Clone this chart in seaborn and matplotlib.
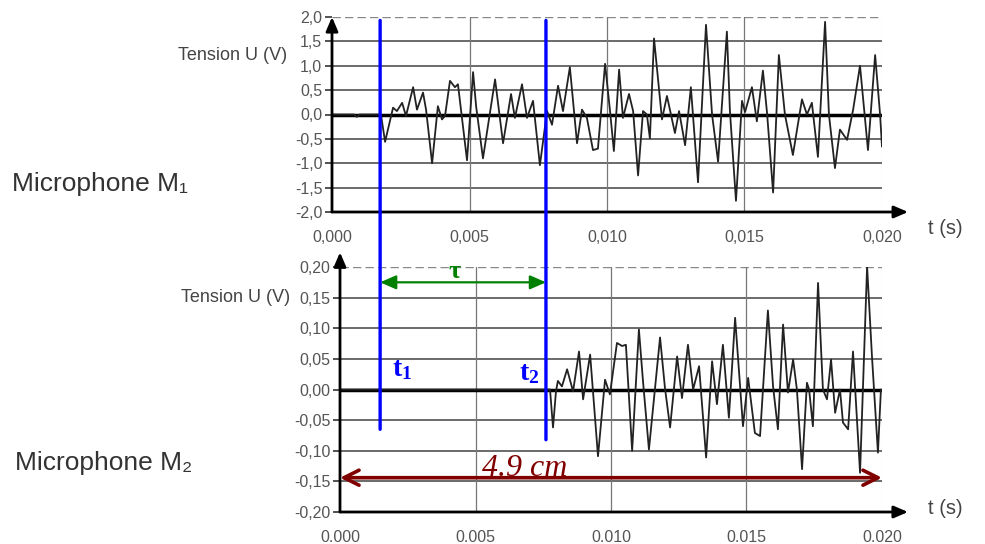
import numpy as np
import pandas as pd
import matplotlib
matplotlib.use("Agg")
import matplotlib.pyplot as plt
import seaborn as sns
from matplotlib.patches import ConnectionPatch
from matplotlib.transforms import blended_transform_factory

# signal of microphone M1 (time in s, tension in V)
t_m1 = [0.0, 0.0008, 0.0009, 0.0010, 0.00178, 0.00193, 0.00222, 0.00236, 0.00255, 0.00269,
        0.00295, 0.00309, 0.00331, 0.00342, 0.00364, 0.00385, 0.00400, 0.00411, 0.00429, 0.00447,
        0.00458, 0.00491, 0.00513, 0.00524, 0.00549, 0.00593, 0.00622, 0.00651, 0.00665, 0.00691,
        0.00709, 0.00731, 0.00756, 0.00782, 0.00800, 0.00822, 0.00840, 0.00865, 0.00891, 0.00909,
        0.00927, 0.00949, 0.00967, 0.00993, 0.01011, 0.01025, 0.01044, 0.01058, 0.01080, 0.01095,
        0.01113, 0.01131, 0.01145, 0.01156, 0.01171, 0.01200, 0.01218, 0.01247, 0.01262, 0.01284,
        0.01305, 0.01331, 0.01360, 0.01382, 0.01404, 0.01436, 0.01447, 0.01469, 0.01491, 0.01502,
        0.01527, 0.01545, 0.01567, 0.01582, 0.01604, 0.01625, 0.01647, 0.01676, 0.01709, 0.01727,
        0.01745, 0.01767, 0.01793, 0.01807, 0.01829, 0.01847, 0.01873, 0.01895, 0.01920, 0.01949,
        0.01975, 0.01993, 0.02000]
u_m1 = [0.0, 0.0, -0.05, 0.0, 0.0, -0.56, 0.14, 0.07, 0.24, -0.03,
        0.56, 0.10, 0.45, 0.10, -1.00, 0.17, -0.10, -0.03, 0.69, 0.56,
        0.62, -0.94, 0.87, 0.17, -0.90, 0.72, -0.59, 0.42, -0.07, 0.62,
        -0.07, 0.28, -1.04, 0.07, -0.21, 0.59, 0.07, 0.97, -0.59, 0.10,
        -0.07, -0.73, -0.70, 1.04, 0.07, -0.75, 0.92, -0.07, 0.42, 0.07,
        -1.25, 0.07, 0.0, -0.49, 1.56, -0.10, 0.38, -0.38, 0.07, -0.63,
        0.56, -1.39, 1.84, 0.0, -0.97, 1.70, 0.07, -1.77, 0.28, 0.05,
        0.56, -0.14, 0.90, 0.03, -1.60, 1.22, 0.0, -0.83, 0.31, 0.0,
        0.24, -0.87, 1.90, 0.0, -1.10, -0.31, -0.52, 0.10, 1.00, -0.73,
        1.22, 0.0, -0.66]

# signal of microphone M2
t_m2 = [0.0, 0.00764, 0.00775, 0.00786, 0.00797, 0.00804, 0.00819, 0.00838, 0.00860, 0.00882,
        0.00897, 0.00923, 0.00952, 0.00978, 0.00996, 0.01022, 0.01041, 0.01055, 0.01078, 0.01103,
        0.01118, 0.01140, 0.01181, 0.01199, 0.01218, 0.01244, 0.01262, 0.01284, 0.01303, 0.01325,
        0.01351, 0.01373, 0.01391, 0.01413, 0.01435, 0.01458, 0.01487, 0.01506, 0.01531, 0.01550,
        0.01579, 0.01598, 0.01616, 0.01635, 0.01653, 0.01672, 0.01686, 0.01705, 0.01723, 0.01731,
        0.01745, 0.01764, 0.01782, 0.01797, 0.01812, 0.01827, 0.01845, 0.01856, 0.01875, 0.01893,
        0.01919, 0.01945, 0.01963, 0.01985, 0.01996]
u_m2 = [0.0, 0.0, 0.0, -0.062, -0.003, 0.014, 0.005, 0.033, -0.003, 0.062,
        -0.016, 0.057, -0.109, 0.016, -0.008, 0.076, 0.071, 0.073, -0.100, 0.098,
        0.014, -0.098, 0.085, 0.003, -0.062, 0.054, -0.014, 0.073, 0.0, 0.038,
        -0.111, 0.046, -0.024, 0.073, -0.046, 0.117, -0.060, 0.019, -0.071, -0.076,
        0.129, 0.005, -0.065, 0.106, -0.005, 0.049, 0.0, -0.130, 0.011, 0.0,
        -0.060, 0.174, 0.0, -0.016, 0.049, -0.038, 0.0, -0.054, -0.065, 0.062,
        -0.136, 0.201, 0.054, -0.103, 0.0]

x_ticks = [0.0, 0.005, 0.010, 0.015, 0.020]
x_labels_m1 = ["0,000", "0,005", "0,010", "0,015", "0,020"]
x_labels_m2 = ["0.000", "0.005", "0.010", "0.015", "0.020"]
y_ticks_m1 = [-2.0, -1.5, -1.0, -0.5, 0.0, 0.5, 1.0, 1.5, 2.0]
y_labels_m1 = ["-2,0", "-1,5", "-1,0", "-0,5", "0,0", "0,5", "1,0", "1,5", "2,0"]
y_ticks_m2 = [-0.20, -0.15, -0.10, -0.05, 0.0, 0.05, 0.10, 0.15, 0.20]
y_labels_m2 = ["-0,20", "-0,15", "-0,10", "-0,05", "0,00", "0,05", "0,10", "0,15", "0,20"]

t1 = 0.00175      # arrivée du son sur M1
t2 = 0.00778      # arrivée du son sur M2

sns.set_theme(style="white")
plt.rcParams['font.family'] = ['Liberation Sans', 'DejaVu Sans']
plt.rcParams['mathtext.fontset'] = 'custom'
plt.rcParams['mathtext.rm'] = 'Liberation Serif'
plt.rcParams['mathtext.bf'] = 'Liberation Serif:bold'
plt.rcParams['mathtext.it'] = 'Liberation Serif:italic'

fig = plt.figure(figsize=(9.85, 5.44), dpi=100)
ax1 = fig.add_axes([332 / 985, 1 - 212 / 544, 550 / 985, 195 / 544])
ax2 = fig.add_axes([340 / 985, 1 - 512 / 544, 542 / 985, 245 / 544])


def style_axis(ax, yticks, ylabels, xlabels, ytop, xend):
    ax.set_xlim(0, 0.020)
    ax.set_ylim(yticks[0], yticks[-1])
    ax.set_xticks(x_ticks)
    ax.set_xticklabels(xlabels)
    ax.set_yticks(yticks)
    ax.set_yticklabels(ylabels)
    ax.set_xlabel("")
    ax.set_ylabel("")
    for s in ax.spines.values():
        s.set_visible(False)
    ax.tick_params(axis='y', length=5, width=1.2, color='#333', labelsize=11.5,
                   labelcolor='#555', pad=2, left=True)
    ax.tick_params(axis='x', length=0, labelsize=11.5, labelcolor='#555', pad=13)
    # quadrillage
    for y in yticks[1:-1]:
        ax.axhline(y, color='#333', lw=1.2, alpha=0.85, zorder=1)
    ax.axhline(yticks[-1], color='#888', lw=1.0, ls=(0, (6, 3)), zorder=1)
    for x in x_ticks[1:-1]:
        ax.axvline(x, color='#777', lw=0.9, zorder=1)
    ax.axvline(0.020, color='#999', lw=0.8, ls=':', zorder=1)
    ax.axhline(0, color='black', lw=2.5, zorder=2)
    # axes avec flèches
    arrow = dict(arrowstyle='-|>,head_length=0.7,head_width=0.3', lw=2, color='black',
                 shrinkA=0, shrinkB=0)
    ax.annotate('', xy=(0, ytop), xytext=(0, yticks[0]), arrowprops=arrow,
                annotation_clip=False, zorder=4)
    ax.annotate('', xy=(xend, yticks[0]), xytext=(0, yticks[0]), arrowprops=arrow,
                annotation_clip=False, zorder=4)


df1 = pd.DataFrame({"t": t_m1, "u": u_m1})
df2 = pd.DataFrame({"t": t_m2, "u": u_m2})
sns.lineplot(data=df1, x="t", y="u", ax=ax1, color='#222', lw=1.3, estimator=None, sort=False, zorder=3)
sns.lineplot(data=df2, x="t", y="u", ax=ax2, color='#222', lw=1.3, estimator=None, sort=False, zorder=3)

style_axis(ax1, y_ticks_m1, y_labels_m1, x_labels_m1, 2.0, 0.02095)
style_axis(ax2, y_ticks_m2, y_labels_m2, x_labels_m2, 0.224, 0.02096)

# textes
fig.text(12 / 985, 1 - 184 / 544, "Microphone M₁", fontsize=19, color='#333', va='center')
fig.text(15 / 985, 1 - 463 / 544, "Microphone M₂", fontsize=19, color='#333', va='center')
fig.text(287 / 985, 1 - 55 / 544, "Tension U (V)", fontsize=13, color='#444', ha='right', va='center')
fig.text(290 / 985, 1 - 297 / 544, "Tension U (V)", fontsize=13, color='#444', ha='right', va='center')
fig.text(928 / 985, 1 - 228 / 544, "t (s)", fontsize=14.5, color='#444', va='center')
fig.text(928 / 985, 1 - 508 / 544, "t (s)", fontsize=14.5, color='#444', va='center')

# repères t1, t2 et tau
trans = blended_transform_factory(ax1.transData, ax2.transData)
for t, yb in ((t1, -0.065), (t2, -0.082)):
    con = ConnectionPatch(xyA=(t, 1.93), coordsA=ax1.transData, xyB=(t, yb), coordsB=trans,
                          color='#0000ff', lw=2.4, zorder=5)
    fig.add_artist(con)

ax2.annotate('', xy=(t2, 0.175), xytext=(t1, 0.175), xycoords=trans, textcoords=trans,
             arrowprops=dict(arrowstyle='<|-|>,head_length=0.8,head_width=0.35', color='#008000',
                             lw=1.6, shrinkA=0, shrinkB=0), annotation_clip=False, zorder=6)
ax2.text(0.00447, 0.193, "τ", transform=trans, color='#008000', fontsize=19, fontweight='bold',
         family='Liberation Serif', ha='center', va='center', zorder=6)
ax2.text(0.00255, 0.033, r"$\mathbf{t_1}$", transform=trans, color='#0000ff', fontsize=20,
         ha='center', va='center', zorder=6)
ax2.text(0.00716, 0.027, r"$\mathbf{t_2}$", transform=trans, color='#0000ff', fontsize=20,
         ha='center', va='center', zorder=6)

# distance entre les micros
ax2.annotate('', xy=(0.020, -0.144), xytext=(0.0, -0.144),
             arrowprops=dict(arrowstyle='<->,head_length=0.9,head_width=0.45', color='#800000',
                             lw=2.6, shrinkA=0, shrinkB=0), annotation_clip=False, zorder=6)
ax2.text(0.00683, -0.141, "4.9 cm", color='#800000', fontsize=23, style='italic',
         family='Liberation Serif', ha='center', va='baseline', zorder=6)

fig.savefig("out.png", dpi=100)
